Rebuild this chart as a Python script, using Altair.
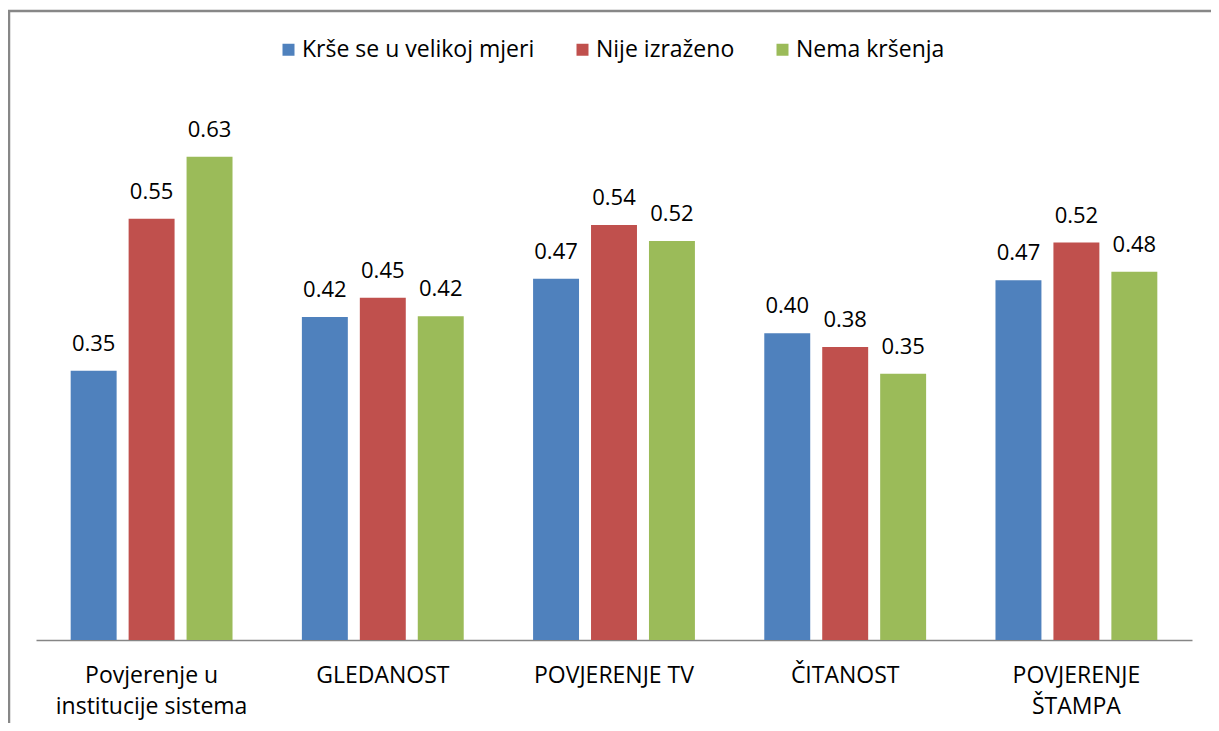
import altair as alt
import pandas as pd

categories = ["Povjerenje u institucije sistema", "GLEDANOST", "POVJERENJE TV", "ČITANOST", "POVJERENJE ŠTAMPA"]
series = ["Krše se u velikoj mjeri", "Nije izraženo", "Nema kršenja"]
colors = ["#4F81BD", "#C0504D", "#9BBB59"]

krse = [0.351, 0.421, 0.471, 0.400, 0.469]
nije = [0.549, 0.446, 0.541, 0.382, 0.518]
nema = [0.630, 0.422, 0.520, 0.347, 0.480]

rows = []
for s, vals in zip(series, [krse, nije, nema]):
    for c, v in zip(categories, vals):
        rows.append({"cat": c, "series": s, "value": v})
df = pd.DataFrame(rows)

FONT = "Open Sans"
label_expr = ("datum.value == 'Povjerenje u institucije sistema' ? ['Povjerenje u', 'institucije sistema'] : "
              "datum.value == 'POVJERENJE ŠTAMPA' ? ['POVJERENJE', 'ŠTAMPA'] : datum.value")

base = alt.Chart(df).encode(
    x=alt.X("cat:N", sort=categories, title=None,
            scale=alt.Scale(paddingInner=0.3, paddingOuter=0.15),
            axis=alt.Axis(labelAngle=0, ticks=False, domainColor="#868686", domainWidth=1.3,
                          labelFont=FONT, labelFontSize=23, labelColor="#000000",
                          labelPadding=24, labelBaseline="top", labelLineHeight=31,
                          labelLimit=400, labelExpr=label_expr, grid=False)),
    xOffset=alt.XOffset("series:N", sort=series,
                        scale=alt.Scale(paddingInner=0.207, paddingOuter=0)),
    y=alt.Y("value:Q", scale=alt.Scale(domain=[0, 0.7]), axis=None),
)

bars = base.mark_bar().encode(
    color=alt.Color("series:N", sort=series,
                    scale=alt.Scale(domain=series, range=colors),
                    legend=alt.Legend(title=None, orient="none", direction="horizontal",
                                      legendX=241, legendY=-65, symbolType="square",
                                      symbolSize=144, symbolStrokeWidth=0,
                                      labelFont=FONT, labelFontSize=23, labelColor="#000000",
                                      labelLimit=400, labelOffset=2, columnPadding=36))
)

labels = base.mark_text(font=FONT, fontSize=22, color="#000000", baseline="alphabetic", dy=-20).encode(
    text=alt.Text("value:Q", format=".2f")
)

frame_df = pd.DataFrame({"a": [0]})
frame_left = alt.Chart(frame_df).mark_rule(color="#878787", strokeWidth=2.5, clip=False).encode(
    x=alt.value(-27), y=alt.value(-92), y2=alt.value(1000))
frame_top = alt.Chart(frame_df).mark_rule(color="#878787", strokeWidth=2.5, clip=False).encode(
    y=alt.value(-92), x=alt.value(-28), x2=alt.value(2000))

chart = alt.layer(frame_left, frame_top, bars, labels).properties(
    width=1156, height=537,
    autosize=alt.AutoSizeParams(type="none"),
    padding={"left": 28, "top": 95, "right": 19, "bottom": 83},
    background="white",
).configure_view(strokeWidth=0, stroke="transparent")

chart.save("out.html", embed_options={"renderer": "svg", "actions": False})
